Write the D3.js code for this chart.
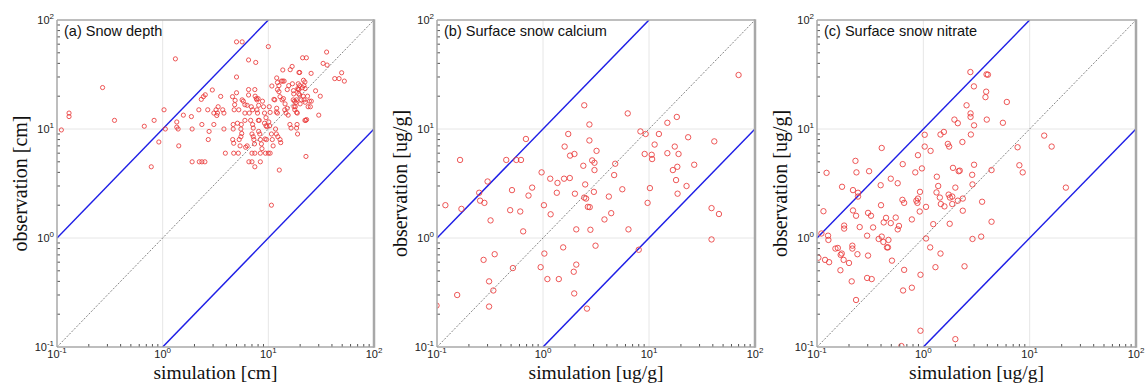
<!DOCTYPE html>
<html>
<head>
<meta charset="utf-8">
<script src="https://cdn.jsdelivr.net/npm/d3@7"></script>
<style>
  body { margin: 0; background: #fff; }
  svg { display: block; }
</style>
</head>
<body>
<svg id="chart" width="1147" height="383"></svg>
<script>
// [simulation, observation] pairs
const snowDepth = [
  [0.11, 9.8], [0.13, 14], [0.13, 13], [0.27, 24], [0.35, 12], [0.67, 10.6], [0.78, 4.5], [0.83, 12], [0.92, 7.6], [1.03, 15], [1.06, 10],
  [1.32, 44], [1.36, 11.6], [1.36, 10.4], [1.4, 10], [1.42, 7], [1.57, 13.4], [1.87, 13], [1.9, 10], [1.9, 5],
  [2.22, 5], [2.35, 5], [2.51, 5], [2.2, 15], [2.32, 18.7], [2.43, 19.8], [2.53, 20.6], [2.35, 11], [2.67, 15], [2.7, 8], [2.75, 9.5], [2.95, 22.8],
  [3.05, 14], [3.05, 11], [3.2, 15], [3.3, 14], [3.35, 16], [3.25, 13.3], [3.54, 19.9], [3.7, 15], [3.8, 14], [3.8, 10], [3.92, 6],
  [4.58, 19.8], [4.6, 8], [4.7, 7.4], [4.65, 11], [4.65, 10], [4.7, 6], [4.75, 15], [4.8, 16.7], [4.85, 18.3], [5, 30], [5, 21.5], [5, 63], [5.65, 63],
  [5.1, 11.3], [5.2, 6], [5.25, 15], [5.3, 8], [5.4, 7], [5.5, 8.5], [5.6, 9.1], [5.55, 11], [5.5, 10], [5.65, 18.5], [5.8, 18], [6, 14], [6, 12],
  [6.1, 6.8], [6.3, 7], [6, 16.7], [6.3, 16.5], [6.5, 43], [6.5, 23], [6.5, 20.5], [6.55, 5], [7, 5], [6.6, 14], [6.9, 16], [7.1, 15],
  [6.8, 12], [7.1, 11], [7.2, 10.2], [7, 9], [7.2, 8.5], [7.3, 8], [7.4, 7.3], [7, 6], [7.45, 6], [7.45, 4.5], [7.6, 40.8], [7.45, 23], [7.5, 20],
  [7.7, 19], [7.8, 18.5], [8, 19], [7.9, 14], [7.8, 15], [8.1, 16.5], [8.05, 12], [8.2, 12], [8.1, 9.5], [8.3, 9], [8.4, 5], [8.4, 8], [8.6, 7.3], [8.4, 6], [8.7, 6.6],
  [8.8, 18], [9, 16], [9.2, 14], [9.5, 12.7], [9.2, 11.3], [9.5, 10.7], [9.7, 10.5], [9.3, 8.1], [9.6, 8], [9.4, 6], [10, 6], [10.4, 6], [10, 57],
  [10.1, 11.6], [10.3, 10.7], [10.2, 16], [10.4, 14.2], [10.7, 2.0], [10.7, 9], [10.9, 8], [11.1, 7], [10.8, 24.8], [11.3, 18.7], [11.5, 18.5],
  [11.7, 10], [11.9, 9], [12.3, 8.5], [11.9, 14.3], [12, 15.5], [12.2, 14], [12, 29.4], [12.2, 26.7], [12.6, 25], [12.2, 23], [12.6, 22], [12.9, 19.8],
  [12.7, 4.2], [12.9, 8], [13.1, 7.5], [13.5, 18.5], [13.9, 19], [14.4, 17], [13.3, 27.5], [13.7, 27.5], [14.1, 27.5], [13.7, 34.8], [14.3, 15], [14.7, 14], [15.1, 15.5], [15.4, 13.4],
  [15.1, 23], [15.6, 25], [16, 11], [16.4, 10.2], [16.1, 35], [16.8, 37.5], [16.9, 26], [17.3, 22.5], [17.4, 21], [17.2, 18.5], [17.7, 18], [18.2, 17.5], [18.5, 18.5],
  [17.5, 16], [18, 16], [17.8, 15], [18.5, 14.2], [18.8, 14], [18.7, 11], [18.5, 10.2], [18.9, 9], [19.5, 33], [19.8, 33], [19.2, 26], [19.8, 25], [19, 23.5], [19.2, 23], [19.5, 23],
  [19.4, 21], [19.8, 20.5], [20, 17], [20.5, 18.5], [21, 24], [21.5, 28], [22.2, 27], [21.7, 25], [22.3, 23.5], [21.4, 20], [21.8, 18.5], [22.3, 17.6], [22.2, 12], [22.6, 12], [23, 12.2],
  [21.1, 45], [22.9, 45], [23.5, 20], [23.8, 16], [22.7, 5.6], [24.5, 18], [25, 16], [25.5, 18], [25.4, 32.4], [28, 22.4], [30, 13.4], [31, 20], [33, 40], [35.6, 50.8], [36, 38.6],
  [42.5, 29], [46.7, 29], [49.4, 32.8], [52.4, 27.5]
];

const snowCalcium = [
  [0.099, 0.24], [0.12, 2.0], [0.155, 0.3], [0.165, 5.2], [0.17, 1.85], [0.25, 2.6], [0.255, 2.2], [0.275, 0.63], [0.28, 2.1], [0.3, 3.3],
  [0.31, 0.4], [0.31, 0.235], [0.32, 1.45], [0.34, 0.33], [0.35, 0.71], [0.45, 5.2], [0.49, 1.8], [0.51, 2.75], [0.52, 0.53], [0.56, 5.2],
  [0.61, 1.75], [0.62, 5.2], [0.65, 1.15], [0.69, 8.1], [0.73, 2.45], [0.79, 2.9], [0.95, 0.54], [0.97, 4.0], [1.02, 2.0], [1.03, 0.72],
  [1.1, 0.42], [1.17, 3.5], [1.18, 1.65], [1.35, 2.6], [1.37, 3.2], [1.41, 0.42], [1.55, 0.82], [1.58, 3.5], [1.6, 6.9], [1.73, 9.0],
  [1.79, 3.55], [1.8, 5.7], [1.95, 0.49], [1.97, 0.31], [1.98, 5.9], [2.0, 2.55], [2.06, 1.2], [2.06, 0.57], [2.4, 4.6], [2.45, 16.5],
  [2.45, 2.35], [2.5, 3.1], [2.55, 2.3], [2.6, 0.225], [2.65, 1.93], [2.74, 11], [2.74, 7.85], [2.76, 1.92], [2.8, 1.19], [2.91, 5.15],
  [3.02, 2.65], [3.06, 4.9], [3.06, 4.2], [3.13, 0.85], [3.2, 6.3], [3.8, 1.48], [4.18, 2.4], [4.4, 1.69], [4.69, 3.78], [4.8, 4.8],
  [5.6, 2.8], [6.3, 13.9], [6.4, 1.2], [8.0, 0.78], [8.3, 9.5], [9.1, 5.9], [9.3, 9.0], [9.7, 2.1], [10.2, 2.87], [10.6, 5.8],
  [10.7, 5.3], [11.3, 7.2], [12.4, 9], [14.9, 11.4], [14.9, 6.0], [16.8, 4.2], [17.5, 6.9], [18, 3.4], [18.3, 12.9], [18.5, 4.5],
  [18.6, 2.55], [19, 5.9], [22.6, 3.0], [23.4, 8.4], [26.7, 4.7], [38.9, 1.88], [38.9, 0.97], [41.3, 7.7], [45.7, 1.66], [70, 31.3]
];

const snowNitrate = [
  [0.103, 0.66], [0.11, 1.1], [0.115, 1.76], [0.119, 0.63], [0.123, 3.96], [0.127, 1.05], [0.128, 0.96], [0.13, 0.6], [0.149, 0.8], [0.157, 0.81],
  [0.166, 0.506], [0.167, 0.7], [0.171, 0.72], [0.172, 2.95], [0.178, 0.63], [0.18, 1.3], [0.18, 1.22], [0.2, 0.59], [0.212, 0.4], [0.215, 0.8],
  [0.215, 0.85], [0.218, 2.75], [0.218, 1.79], [0.23, 5.1], [0.233, 0.27], [0.233, 1.6], [0.235, 4.0], [0.24, 0.71], [0.243, 2.6], [0.243, 2.4],
  [0.252, 1.26], [0.296, 1.05], [0.296, 0.43], [0.302, 0.69], [0.302, 1.7], [0.309, 4.1], [0.322, 1.6], [0.327, 0.42], [0.337, 1.25], [0.38, 0.98],
  [0.397, 3.05], [0.4, 2.0], [0.406, 6.7], [0.406, 1.03], [0.421, 0.92], [0.424, 1.39], [0.446, 1.53], [0.455, 0.82], [0.465, 0.82], [0.47, 0.96],
  [0.494, 1.37], [0.494, 3.5], [0.507, 0.62], [0.55, 1.54], [0.574, 3.18], [0.574, 1.2], [0.59, 1.29], [0.622, 0.102], [0.636, 2.24], [0.64, 4.76],
  [0.645, 0.33], [0.66, 0.51], [0.66, 2.1], [0.78, 1.48], [0.78, 0.35], [0.84, 4.0], [0.86, 2.2], [0.88, 2.1], [0.89, 2.3], [0.89, 5.75],
  [0.925, 1.75], [0.93, 2.65], [0.94, 0.141], [0.94, 0.46], [0.97, 4.35], [1.03, 8.85], [1.03, 6.9], [1.06, 1.93], [1.06, 0.99], [1.16, 0.82],
  [1.17, 6.3], [1.24, 1.34], [1.3, 0.54], [1.33, 2.62], [1.34, 3.65], [1.38, 3.0], [1.43, 2.35], [1.45, 0.72], [1.45, 8.9], [1.46, 2.05],
  [1.56, 9.4], [1.58, 1.95], [1.7, 7.3], [1.73, 2.5], [1.75, 6.9], [1.77, 1.35], [1.78, 2.35], [1.87, 2.4], [1.87, 2.05], [1.9, 4.4],
  [1.96, 12.2], [2.0, 0.118], [2.0, 2.9], [2.11, 11.3], [2.11, 2.2], [2.15, 4.1], [2.2, 4.15], [2.33, 7.6], [2.35, 1.78], [2.35, 2.3],
  [2.44, 0.55], [2.55, 16.5], [2.77, 33.3], [2.78, 13.9], [2.78, 12.9], [2.8, 8.9], [2.88, 3.8], [2.9, 3.1], [2.9, 0.98], [2.99, 24.6],
  [3.0, 10.8], [3.0, 4.7], [3.5, 1.03], [3.57, 2.15], [3.84, 19.6], [3.9, 22], [3.93, 31.7], [4.05, 31.5], [3.95, 12.2], [4.38, 4.2],
  [4.38, 1.41], [5.6, 11.4], [6.1, 17.7], [7.7, 6.8], [8.0, 4.65], [8.6, 4.0], [13.7, 8.7], [16.1, 6.9], [21.9, 2.9]
];

const decades = [0.1, 1, 10, 100];
const tickExps = ['-1', '0', '1', '2'];
const gridValues = [1, 10];

const panels = [
  { title: '(a) Snow depth', unit: 'cm', pts: snowDepth, left: 57, right: 374, r: 2.1 },
  { title: '(b) Surface snow calcium', unit: 'ug/g', pts: snowCalcium, left: 437, right: 755, r: 2.7 },
  { title: '(c) Surface snow nitrate', unit: 'ug/g', pts: snowNitrate, left: 817, right: 1136, r: 2.7 },
];
const plotTop = 20;
const plotBottom = 347;

const svg = d3.select('#chart');
const sans = "'Liberation Sans', Arial, Helvetica, sans-serif";
const serif = "'Liberation Serif', 'Times New Roman', serif";

// minor tick values 2..9 in each decade
const minors = [];
[0.1, 1, 10].forEach((d) => {
  for (let k = 2; k <= 9; k++) minors.push(d * k);
});

panels.forEach((p, i) => {
  const x = d3.scaleLog().domain([0.1, 100]).range([p.left, p.right]);
  const y = d3.scaleLog().domain([0.1, 100]).range([plotBottom, plotTop]);
  const g = svg.append('g');

  const clipId = `clip-${i}`;
  svg.append('clipPath').attr('id', clipId)
    .append('rect')
    .attr('x', p.left).attr('y', plotTop)
    .attr('width', p.right - p.left).attr('height', plotBottom - plotTop);

  // grid
  g.selectAll('.gx').data(gridValues).enter().append('line')
    .attr('x1', (d) => x(d)).attr('x2', (d) => x(d))
    .attr('y1', plotTop).attr('y2', plotBottom)
    .attr('stroke', '#e6e6e6').attr('stroke-width', 1);
  g.selectAll('.gy').data(gridValues).enter().append('line')
    .attr('y1', (d) => y(d)).attr('y2', (d) => y(d))
    .attr('x1', p.left).attr('x2', p.right)
    .attr('stroke', '#e6e6e6').attr('stroke-width', 1);

  const plot = g.append('g').attr('clip-path', `url(#${clipId})`);

  // 1:1 line
  const line = d3.line().x((d) => x(d[0])).y((d) => y(d[1]));
  plot.append('path')
    .datum([[0.1, 0.1], [100, 100]])
    .attr('d', line)
    .attr('fill', 'none')
    .attr('stroke', '#666')
    .attr('stroke-width', 0.8)
    .attr('stroke-dasharray', '2,1.5');

  // factor-of-10 lines
  [[[0.1, 1], [10, 100]], [[1, 0.1], [100, 10]]].forEach((seg) => {
    plot.append('path')
      .datum(seg)
      .attr('d', line)
      .attr('fill', 'none')
      .attr('stroke', '#1f1fe6')
      .attr('stroke-width', 1.5);
  });

  // points
  plot.selectAll('circle').data(p.pts).enter().append('circle')
    .attr('cx', (d) => x(d[0]))
    .attr('cy', (d) => y(d[1]))
    .attr('r', p.r)
    .attr('fill', 'none')
    .attr('stroke', '#ea3a3a')
    .attr('stroke-width', 0.85);

  // frame
  g.append('line').attr('x1', p.left).attr('x2', p.right).attr('y1', plotTop).attr('y2', plotTop)
    .attr('stroke', '#a8a8a8').attr('stroke-width', 1.5);
  g.append('line').attr('x1', p.left).attr('x2', p.right).attr('y1', plotBottom).attr('y2', plotBottom)
    .attr('stroke', '#a8a8a8').attr('stroke-width', 1.5);
  g.append('line').attr('x1', p.left).attr('x2', p.left).attr('y1', plotTop).attr('y2', plotBottom)
    .attr('stroke', '#a8a8a8').attr('stroke-width', 1.5);
  g.append('line').attr('x1', p.right).attr('x2', p.right).attr('y1', plotTop - 0.75).attr('y2', plotBottom + 0.75)
    .attr('stroke', '#a8a8a8').attr('stroke-width', 2.5);

  // minor ticks (inside, left and bottom)
  g.selectAll('.mx').data(minors).enter().append('line')
    .attr('x1', (d) => x(d)).attr('x2', (d) => x(d))
    .attr('y1', plotBottom - 0.5).attr('y2', plotBottom - 3)
    .attr('stroke', '#555').attr('stroke-width', 1);
  g.selectAll('.my').data(minors).enter().append('line')
    .attr('y1', (d) => y(d)).attr('y2', (d) => y(d))
    .attr('x1', p.left + 0.5).attr('x2', p.left + 3)
    .attr('stroke', '#555').attr('stroke-width', 1);

  // tick labels
  const xt = g.selectAll('.xt').data(decades).enter().append('text')
    .attr('x', (d) => x(d))
    .attr('y', plotBottom + 11)
    .attr('text-anchor', 'middle')
    .attr('font-family', sans)
    .attr('font-size', 11)
    .attr('fill', '#222');
  xt.append('tspan').text('10');
  xt.append('tspan').attr('dy', -5).attr('font-size', 8).text((d, j) => tickExps[j]);

  const yt = g.selectAll('.yt').data(decades).enter().append('text')
    .attr('x', p.left - 3)
    .attr('y', (d) => y(d) + 4)
    .attr('text-anchor', 'end')
    .attr('font-family', sans)
    .attr('font-size', 11)
    .attr('fill', '#222');
  yt.append('tspan').text('10');
  yt.append('tspan').attr('dy', -5).attr('font-size', 8).text((d, j) => tickExps[j]);

  // title
  g.append('text')
    .attr('x', p.left + 7)
    .attr('y', plotTop + 15.5)
    .attr('font-family', sans)
    .attr('font-size', 14.5)
    .attr('fill', '#111')
    .text(p.title);

  // axis labels
  g.append('text')
    .attr('x', (p.left + p.right) / 2)
    .attr('y', 379)
    .attr('text-anchor', 'middle')
    .attr('font-family', serif)
    .attr('font-size', 19.5)
    .attr('fill', '#111')
    .text(`simulation [${p.unit}]`);
  g.append('text')
    .attr('transform', `translate(${p.left - 30},${(plotTop + plotBottom) / 2}) rotate(-90)`)
    .attr('text-anchor', 'middle')
    .attr('font-family', serif)
    .attr('font-size', 20)
    .attr('fill', '#111')
    .text(`observation [${p.unit}]`);
});
</script>
</body>
</html>
